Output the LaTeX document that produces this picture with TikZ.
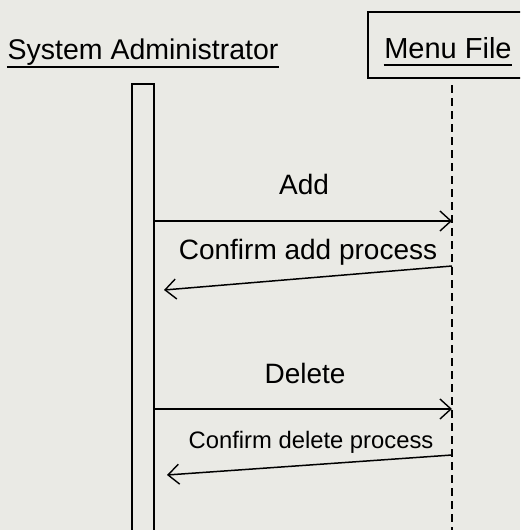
\documentclass[tikz,border=0pt]{standalone}
\usepackage{fontspec}
\setmainfont{Liberation Sans}
\usetikzlibrary{arrows.meta, positioning, calc}
\definecolor{paper}{RGB}{234,234,229}

\begin{document}
\begin{tikzpicture}[x=1pt, y=-1pt, line width=1.5pt,
  msg/.style={-{Straight Barb[length=11pt,width=20pt,line width=1.4pt]}},
  lbl/.style={font=\fontsize{28}{33}\selectfont, inner sep=0pt, anchor=base},
  lifeline/.style={dash pattern=on 8pt off 5pt}]
\fill[paper] (0,0) rectangle (520,530);
\clip (0,0) rectangle (520,530);

% Objects
\node[lbl, font=\fontsize{28.5}{33}\selectfont] (sa) at (143,59) {System Administrator};
\draw ([yshift=-8pt]sa.base west) -- ([yshift=-8pt]sa.base east);
\draw (368,12) rectangle (560,78);
\node[lbl, font=\fontsize{29}{33}\selectfont] (mf) at (448,58) {Menu File};
\draw ([yshift=-7pt]mf.base west) -- ([yshift=-7pt]mf.base east);

% Activation and lifeline
\node[draw, minimum width=22pt, minimum height=470pt, anchor=north, inner sep=0pt] (act) at (143,83) {};
\coordinate (ll) at (452,85);
\draw[lifeline] (ll) -- (452,545);

% Add
\coordinate (sa1) at (154,221);
\coordinate (mf1) at (452,221);
\draw[msg] (sa1) -- (mf1);
\node[lbl] (add) at (304,194) {Add};
\coordinate (mf2) at (452,266);
\coordinate (sa2) at (164,290);
\draw[msg] (mf2) -- (sa2);
\node[lbl] (cadd) at (308,259) {Confirm add process};

% Delete
\coordinate (sa3) at (154,409);
\coordinate (mf3) at (452,409);
\draw[msg] (sa3) -- (mf3);
\node[lbl] (del) at (305,383) {Delete};
\coordinate (mf4) at (452,455);
\coordinate (sa4) at (167,475);
\draw[msg] (mf4) -- (sa4);
\node[lbl, font=\fontsize{23.8}{28}\selectfont] (cdel) at (311,448) {Confirm delete process};
\end{tikzpicture}
\end{document}
